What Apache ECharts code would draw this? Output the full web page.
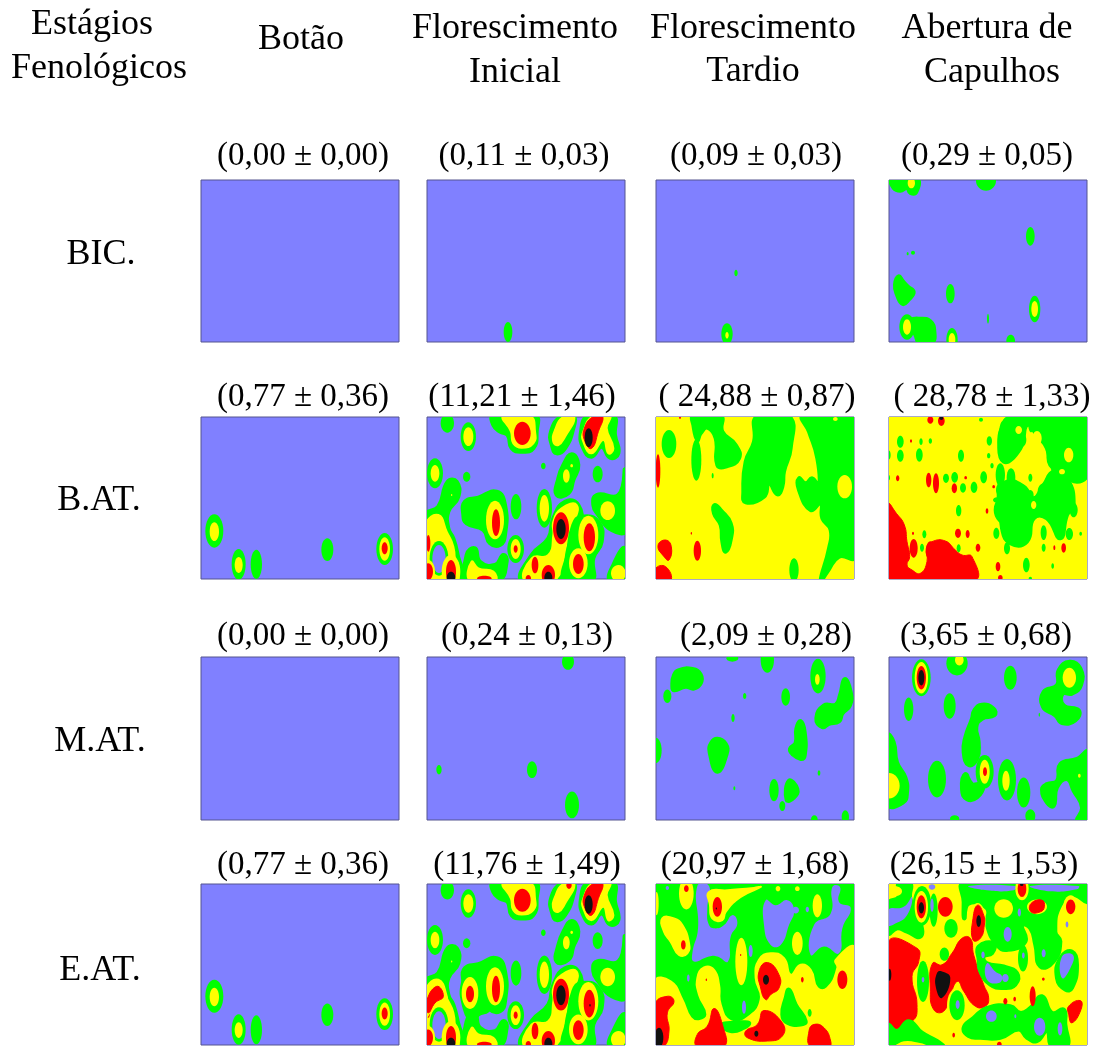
<!DOCTYPE html>
<html><head><meta charset="utf-8">
<style>html,body{margin:0;padding:0;background:#fff}#c{width:1102px;height:1048px}</style>
<script src="https://cdn.jsdelivr.net/npm/echarts@6/dist/echarts.min.js"></script>
</head><body><div id="c"></div>
<script>
// Density levels: 0 none (blue), 1 green, 2 yellow, 3 red, 4 black
const levelColors = ['#8080ff', '#00ff00', '#ffff00', '#ff0000', '#111111'];
const outlineGrow = [0, 4, 2, 1, 0];
const rowLabels = ['BIC.', 'B.AT.', 'M.AT.', 'E.AT.'];
const columnTitles = [['Botão'], ['Florescimento', 'Inicial'], ['Florescimento', 'Tardio'], ['Abertura de', 'Capulhos']];
const cornerTitle = ['Estágios', 'Fenológicos'];
const meanLabels = [
  ['(0,00 ± 0,00)', '(0,11 ± 0,03)', '(0,09 ± 0,03)', '(0,29 ± 0,05)'],
  ['(0,77 ± 0,36)', '(11,21 ± 1,46)', '( 24,88 ± 0,87)', '( 28,78 ± 1,33)'],
  ['(0,00 ± 0,00)', '(0,24 ± 0,13)', '(2,09 ± 0,28)', '(3,65 ± 0,68)'],
  ['(0,77 ± 0,36)', '(11,76 ± 1,49)', '(20,97 ± 1,68)', '(26,15 ± 1,53)']
];

// Contour regions, in field units.
// [level, cx, cy, rx, ry] is an oval patch; [level, x1, y1, x2, y2, ...] is an outlined patch. Later patches lie on top.
const fullYellow = [2, 300, 250, 620, 520];
const fullGreen = [1, 300, 250, 620, 520];

const bicBotao = [];
const bicInicial = [[1, 249, 462, 13, 30]];
const bicTardio = [[1, 246, 285, 5, 10], [1, 219, 468, 17, 32], [2, 219, 472, 5, 10]];
const bicAbertura = [
  [1, 15, 5, 20, 30, 40, 38, 60, 30, 70, 45, 88, 42, 90, 3], [2, 73, 15, 11, 16],
  [1, 297, 8, 30, 30], [1, 430, 175, 13, 28], [1, 78, 224, 6, 6], [1, 62, 227, 3, 5],
  [1, 35, 295, 24, 320, 30, 350, 47, 378, 65, 365, 80, 342, 62, 325, 48, 310],
  [1, 190, 347, 13, 29], [1, 443, 393, 17, 40], [2, 443, 393, 10, 24], [1, 303, 422, 3, 15],
  [1, 70, 430, 100, 422, 130, 430, 142, 460, 135, 495, 100, 498, 85, 470],
  [1, 60, 447, 23, 38], [2, 60, 447, 12, 23],
  [1, 195, 485, 17, 35], [2, 195, 485, 10, 20], [1, 371, 488, 13, 18]
];

const batBotao = [
  [1, 46, 348, 27, 50], [2, 46, 350, 14, 28], [1, 119, 448, 21, 46], [2, 119, 450, 12, 24],
  [1, 172, 448, 17, 44], [1, 385, 404, 18, 34], [1, 557, 402, 25, 48], [2, 557, 402, 16, 35], [3, 557, 400, 9, 18]
];
const inicialShared = [
  [1, 67, 25, 20, 28], [1, 130, 65, 23, 43], [2, 130, 65, 15, 28],
  [1, 205, 3, 330, 3, 335, 50, 325, 100, 290, 110, 260, 100, 248, 60, 225, 50, 205, 30],
  [2, 235, 3, 315, 3, 330, 50, 325, 85, 290, 98, 265, 85, 258, 50], [3, 292, 55, 25, 35],
  [1, 445, 3, 445, 40, 420, 100, 395, 115, 382, 95, 378, 50, 410, 3],
  [2, 415, 6, 448, 6, 420, 65, 400, 90, 385, 80, 390, 45],
  [1, 490, 3, 565, 3, 570, 60, 580, 115, 555, 128, 530, 95, 500, 125, 475, 100, 468, 50],
  [2, 505, 3, 555, 3, 545, 40, 565, 100, 550, 115, 535, 75, 500, 115, 475, 80, 475, 50],
  [3, 507, 3, 533, 3, 520, 50, 500, 100, 480, 80, 478, 40], [4, 491, 68, 12, 28],
  [1, 30, 175, 24, 45], [2, 30, 175, 13, 25], [1, 125, 185, 11, 15], [1, 355, 153, 7, 10], [1, 518, 177, 15, 25],
  [1, 440, 118, 460, 150, 445, 195, 430, 235, 395, 240, 400, 190, 415, 150], [2, 424, 183, 10, 20], [2, 440, 152, 4, 5],
  [1, 3, 300, 40, 275, 68, 200, 95, 200, 100, 245, 70, 290, 70, 340, 85, 370, 98, 420, 110, 497, 3, 497],
  [2, 3, 330, 40, 300, 65, 350, 85, 395, 90, 450, 95, 497, 3, 497],
  [1, 42, 430, 28, 52], [0, 42, 432, 20, 42], [2, 78, 470, 28, 50], [3, 78, 470, 15, 35], [4, 78, 488, 13, 18],
  [2, 10, 470, 20, 35], [3, 10, 385, 6, 25], [3, 10, 470, 14, 25], [2, 80, 240, 2, 3],
  [1, 120, 260, 160, 248, 215, 230, 240, 270, 240, 360, 225, 390, 195, 385, 175, 345, 125, 325, 115, 300],
  [2, 210, 315, 27, 58], [3, 213, 323, 12, 40], [1, 273, 275, 16, 38],
  [1, 358, 280, 23, 58], [2, 358, 280, 14, 40],
  [1, 272, 402, 25, 42], [2, 272, 402, 15, 30], [3, 272, 402, 6, 11],
  [1, 600, 165, 603, 345, 560, 345, 520, 300, 505, 270, 515, 240, 580, 240],
  [2, 548, 287, 22, 28],
  [1, 420, 260, 460, 270, 465, 330, 430, 385, 400, 497, 290, 497, 320, 420, 370, 370, 385, 310],
  [2, 410, 280, 455, 270, 445, 330, 425, 385, 390, 495, 300, 497, 320, 430, 370, 420, 385, 360, 385, 320],
  [3, 408, 340, 24, 48], [4, 408, 342, 14, 30], [3, 330, 450, 10, 25], [3, 370, 480, 20, 30], [4, 370, 488, 12, 18],
  [1, 470, 305, 520, 320, 530, 380, 505, 430, 500, 497, 420, 497, 430, 410, 445, 330],
  [2, 490, 360, 30, 58], [2, 460, 445, 28, 45], [3, 493, 367, 17, 42], [3, 460, 447, 16, 30],
  [1, 125, 420, 150, 400, 165, 440, 210, 450, 235, 420, 245, 440, 220, 497, 130, 497],
  [2, 140, 440, 160, 460, 205, 470, 210, 497, 135, 497], [3, 178, 490, 22, 8],
  [1, 600, 400, 603, 497, 555, 497, 565, 450], [2, 580, 475, 22, 25], [3, 310, 490, 8, 10]
];
const batInicial = inicialShared;
const batTardio = [
  fullYellow, [1, 45, 87, 22, 42],
  [1, 118, 3, 200, 3, 205, 50, 245, 90, 255, 130, 215, 155, 190, 150, 185, 70, 160, 38, 140, 55, 130, 75, 118, 30],
  [1, 127, 135, 15, 62], [1, 176, 182, 3, 8],
  [1, 310, 3, 405, 3, 410, 100, 390, 170, 385, 215, 370, 238, 345, 205, 330, 245, 275, 262, 268, 230, 275, 140, 300, 80],
  [1, 448, 3, 603, 3, 603, 425, 555, 425, 520, 470, 500, 497, 525, 400, 530, 345, 505, 310, 500, 265, 470, 285, 435, 225, 435, 190, 455, 205, 475, 190, 495, 215, 490, 130, 465, 50],
  [2, 572, 215, 22, 35], [2, 544, 12, 7, 6],
  [1, 182, 270, 200, 285, 230, 325, 230, 375, 215, 410, 205, 380, 200, 330, 180, 295],
  [1, 420, 465, 14, 35], [3, 112, 355, 2, 4], [3, 12, 168, 7, 50],
  [3, 12, 392, 35, 375, 52, 395, 45, 435, 30, 425], [3, 130, 407, 11, 30],
  [3, 3, 462, 35, 455, 50, 497, 3, 497], [3, 78, 8, 3, 3]
];
const batAbertura = [
  fullYellow,
  [3, 3, 268, 28, 295, 52, 330, 60, 380, 68, 425, 60, 450, 75, 465, 100, 475, 120, 440, 118, 400, 135, 380, 175, 378, 205, 405, 225, 420, 255, 425, 262, 497, 3, 497],
  [3, 80, 400, 12, 28], [3, 130, 407, 13, 28], [3, 213, 355, 9, 14], [3, 242, 357, 6, 12], [3, 273, 398, 7, 12],
  [3, 300, 288, 4, 8], [3, 333, 455, 7, 14], [3, 530, 399, 7, 14], [3, 502, 398, 3, 7], [3, 78, 355, 3, 5],
  [3, 32, 190, 5, 9], [3, 72, 78, 3, 5], [3, 125, 195, 8, 22], [3, 147, 205, 9, 30], [3, 202, 220, 8, 15],
  [3, 236, 188, 4, 5], [3, 320, 215, 4, 5], [3, 130, 15, 9, 11], [3, 163, 18, 10, 15], [4, 163, 10, 6, 5], [3, 340, 488, 7, 8],
  [1, 40, 80, 10, 18], [1, 40, 122, 10, 18], [1, 5, 120, 6, 14], [1, 102, 80, 5, 10], [1, 97, 120, 10, 20], [1, 130, 78, 5, 8],
  [1, 222, 122, 9, 18], [1, 307, 78, 8, 14], [1, 305, 122, 5, 8], [1, 5, 188, 4, 8], [1, 177, 190, 9, 14], [1, 203, 187, 10, 16],
  [1, 228, 219, 9, 14], [1, 261, 217, 10, 17], [1, 290, 187, 10, 18], [1, 215, 287, 8, 17], [1, 112, 358, 6, 12], [1, 105, 398, 6, 12],
  [1, 215, 400, 6, 12], [1, 328, 355, 9, 17], [1, 360, 400, 9, 18], [1, 418, 450, 10, 22], [1, 497, 453, 4, 8], [1, 470, 353, 9, 22],
  [1, 470, 398, 6, 12], [1, 547, 357, 11, 18], [1, 581, 356, 4, 6], [1, 282, 14, 6, 6], [1, 430, 490, 5, 5], [1, 315, 152, 5, 8],
  [1, 335, 240, 360, 200, 410, 215, 440, 250, 470, 210, 500, 170, 540, 190, 560, 270, 540, 300, 520, 370, 480, 310, 440, 310, 420, 380, 370, 385, 345, 340, 345, 280],
  [1, 340, 60, 370, 10, 600, 5, 603, 170, 570, 200, 520, 170, 490, 150, 480, 100, 450, 60, 420, 30, 400, 100, 350, 140],
  [1, 370, 20, 22, 18], [1, 345, 75, 14, 40], [1, 350, 115, 14, 25], [1, 405, 75, 13, 20], [1, 407, 15, 10, 10], [1, 432, 30, 8, 22],
  [1, 465, 20, 14, 18], [1, 500, 25, 30, 25], [1, 495, 90, 20, 40], [1, 520, 115, 25, 30], [1, 525, 60, 18, 25], [1, 555, 40, 22, 30],
  [1, 585, 22, 10, 12], [1, 585, 110, 18, 60], [1, 555, 150, 22, 22], [1, 590, 60, 10, 25], [1, 500, 160, 8, 15], [1, 530, 160, 20, 25],
  [1, 340, 180, 14, 35], [1, 372, 188, 13, 28], [1, 345, 225, 18, 25], [1, 370, 285, 50, 50], [1, 400, 240, 20, 25], [1, 420, 270, 15, 30],
  [1, 395, 340, 35, 40], [1, 360, 345, 15, 20], [1, 430, 240, 10, 15], [1, 430, 188, 6, 12], [1, 470, 230, 18, 25], [1, 490, 200, 15, 20],
  [1, 465, 285, 15, 22], [1, 500, 265, 30, 25], [1, 530, 220, 20, 40], [1, 560, 285, 12, 22], [1, 505, 300, 20, 20], [1, 515, 350, 10, 15],
  [1, 540, 250, 12, 15], [1, 420, 320, 15, 15], [1, 330, 255, 12, 8], [1, 425, 340, 10, 15], [1, 380, 380, 15, 10],
  [2, 545, 120, 14, 22], [2, 450, 70, 14, 22], [2, 395, 45, 10, 12], [2, 525, 170, 9, 8], [2, 440, 270, 8, 12]
];

const matBotao = [];
const matInicial = [[1, 429, 20, 18, 24], [1, 42, 342, 8, 14], [1, 321, 342, 15, 25], [1, 441, 447, 21, 40]];
const matTardio = [
  [1, 235, 10, 18, 10], [1, 340, 15, 20, 38], [1, 492, 63, 23, 52], [2, 490, 73, 7, 16],
  [1, 60, 60, 75, 45, 115, 42, 140, 58, 140, 85, 120, 100, 95, 95, 60, 105, 55, 90], [1, 40, 123, 12, 20],
  [1, 272, 122, 5, 9], [1, 395, 125, 13, 26], [1, 237, 188, 5, 12],
  [1, 572, 72, 590, 110, 588, 150, 565, 175, 555, 198, 525, 205, 505, 215, 487, 188, 510, 150, 545, 148, 558, 120],
  [1, 440, 197, 452, 230, 452, 300, 440, 310, 415, 295, 408, 280, 425, 262, 427, 220],
  [1, 5, 285, 18, 38], [1, 190, 250, 215, 265, 218, 295, 190, 348, 167, 290, 172, 262],
  [1, 495, 352, 4, 8], [1, 241, 397, 3, 6], [1, 360, 403, 14, 33], [1, 405, 375, 430, 400, 420, 425, 398, 432],
  [1, 385, 450, 9, 15], [1, 481, 490, 10, 12], [1, 574, 483, 11, 20]
];
const matAbertura = [
  [1, 103, 68, 28, 55], [2, 103, 68, 20, 47], [3, 103, 68, 14, 35], [4, 103, 68, 9, 23],
  [1, 210, 25, 32, 36], [2, 217, 15, 13, 16], [1, 370, 68, 19, 36],
  [1, 548, 20, 580, 40, 582, 90, 555, 115, 527, 115, 530, 150, 575, 165, 565, 195, 525, 203, 505, 180, 468, 155, 470, 110, 510, 90, 515, 45],
  [2, 547, 68, 20, 30], [1, 65, 162, 14, 35], [1, 188, 152, 18, 38], [1, 457, 178, 2, 6],
  [1, 285, 148, 320, 160, 322, 180, 285, 190, 268, 215, 275, 260, 270, 310, 245, 328, 230, 290, 235, 245, 255, 190, 262, 165],
  [1, 235, 355, 255, 385, 275, 385, 290, 390, 270, 425, 240, 430, 225, 400],
  [1, 293, 348, 27, 50], [2, 293, 348, 15, 36], [3, 294, 348, 6, 13],
  [1, 3, 240, 20, 260, 30, 320, 55, 365, 60, 410, 48, 440, 3, 445], [2, 5, 390, 33, 38],
  [1, 150, 370, 27, 55], [1, 360, 372, 27, 62], [2, 357, 375, 11, 30],
  [1, 410, 410, 20, 45], [1, 430, 480, 15, 20],
  [1, 603, 290, 603, 497, 570, 497, 585, 455, 560, 405, 540, 370, 510, 395, 500, 450, 480, 440, 465, 400, 480, 385, 510, 375, 520, 325, 570, 310],
  [2, 577, 360, 4, 6], [1, 203, 488, 14, 10]
];

const eatBotao = [
  [1, 46, 345, 27, 50], [2, 46, 347, 14, 28], [1, 119, 445, 21, 46], [2, 119, 447, 12, 24],
  [1, 172, 446, 17, 44], [1, 385, 401, 18, 34], [1, 557, 399, 25, 48], [2, 557, 399, 16, 35], [3, 557, 397, 9, 18]
];
const eatInicial = inicialShared.concat([
  [2, 432, 10, 14, 20], [3, 432, 10, 8, 11],
  [1, 115, 300, 150, 270, 175, 345, 190, 385, 160, 400, 145, 420, 120, 385],
  [2, 135, 335, 25, 48], [3, 135, 338, 12, 25],
  [2, 3, 325, 40, 295, 65, 345, 60, 365, 25, 380, 3, 405], [3, 3, 365, 35, 315, 55, 345, 30, 365, 10, 395],
  [4, 495, 372, 2, 4]
]);
const eatTardio = [
  fullGreen,
  [0, 130, 12, 165, 12, 160, 80, 165, 130, 185, 140, 210, 130, 235, 100, 250, 125, 230, 165, 222, 240, 190, 225, 165, 225, 120, 240, 115, 215, 132, 140],
  [0, 335, 55, 365, 70, 400, 55, 420, 85, 405, 130, 380, 190, 350, 190, 330, 130], [0, 425, 85, 10, 10], [0, 460, 83, 5, 8],
  [0, 535, 15, 558, 15, 555, 60, 590, 78, 565, 140, 555, 215, 510, 195, 470, 220, 480, 130, 530, 95],
  [0, 290, 208, 6, 18], [0, 103, 290, 4, 11], [0, 270, 378, 6, 20], [0, 40, 18, 5, 6],
  [2, 8, 65, 6, 35], [2, 97, 35, 22, 48], [3, 97, 20, 7, 10],
  [2, 165, 30, 220, 25, 300, 18, 320, 15, 260, 45, 215, 90, 205, 115, 175, 110, 168, 70], [3, 190, 75, 14, 30], [4, 187, 80, 2, 3],
  [2, 372, 20, 7, 8], [2, 430, 20, 7, 7], [2, 490, 72, 14, 35], [2, 430, 185, 16, 35],
  [2, 25, 110, 60, 110, 85, 130, 105, 185, 100, 215, 75, 220, 50, 180, 30, 150], [3, 88, 190, 7, 14],
  [2, 262, 240, 18, 72], [3, 260, 220, 2, 3],
  [2, 3, 300, 50, 300, 85, 355, 110, 410, 135, 420, 160, 400, 135, 340, 130, 290, 150, 258, 180, 265, 195, 310, 200, 370, 230, 420, 280, 410, 320, 355, 305, 290, 315, 235, 350, 215, 390, 230, 410, 280, 440, 250, 470, 265, 490, 320, 520, 320, 550, 260, 545, 235, 603, 200, 603, 497, 3, 497],
  [1, 405, 325, 425, 370, 455, 420, 440, 430, 400, 425, 385, 400, 395, 350],
  [1, 467, 395, 6, 12], [1, 163, 492, 6, 5], [1, 205, 430, 250, 425, 285, 425, 270, 440, 230, 450],
  [3, 3, 370, 40, 345, 60, 360, 40, 395, 45, 450, 30, 497, 3, 497], [4, 15, 470, 13, 30],
  [3, 180, 382, 205, 430, 210, 497, 130, 497, 130, 460, 160, 435],
  [3, 330, 388, 385, 425, 385, 465, 340, 480, 280, 470, 275, 450, 310, 430], [4, 307, 458, 6, 9],
  [3, 340, 243, 375, 280, 375, 320, 350, 340, 335, 355, 320, 320, 315, 270], [4, 336, 295, 9, 15],
  [3, 480, 430, 510, 440, 530, 480, 525, 497, 470, 497, 465, 450],
  [3, 565, 295, 15, 28], [3, 445, 295, 4, 8], [3, 157, 295, 2, 4]
];
const eatAbertura = [
  fullYellow,
  [1, 35, 3, 70, 3, 70, 50, 100, 120, 100, 165, 60, 150, 30, 140, 3, 155, 3, 65, 35, 45],
  [0, 3, 85, 50, 75, 75, 45, 60, 100, 25, 125, 3, 130], [0, 135, 15, 10, 8], [2, 25, 28, 20, 15],
  [1, 105, 72, 28, 60], [2, 103, 75, 20, 48], [3, 103, 75, 14, 35], [4, 103, 78, 8, 17],
  [1, 140, 85, 12, 50], [0, 135, 70, 5, 20], [3, 175, 75, 22, 30], [1, 192, 140, 20, 28], [1, 172, 218, 14, 20],
  [1, 232, 3, 603, 3, 603, 60, 560, 40, 520, 70, 505, 150, 520, 180, 500, 240, 460, 255, 445, 190, 430, 140, 405, 130, 415, 180, 360, 205, 330, 190, 300, 130, 300, 80, 245, 65, 232, 110, 230, 60],
  [2, 350, 80, 28, 28], [0, 245, 12, 385, 12, 380, 25, 300, 25], [0, 430, 12, 575, 12, 570, 22, 490, 28],
  [0, 397, 92, 5, 12], [0, 362, 158, 12, 22], [0, 540, 128, 4, 9], [0, 470, 215, 6, 12],
  [2, 405, 20, 20, 35], [3, 405, 20, 13, 25], [4, 404, 8, 5, 4],
  [2, 450, 75, 30, 22], [3, 432, 65, 465, 55, 472, 75, 460, 90, 432, 90],
  [2, 551, 75, 22, 35], [3, 551, 75, 14, 22],
  [2, 272, 118, 24, 55], [3, 272, 70, 290, 100, 292, 130, 280, 170, 258, 175, 258, 110], [4, 275, 118, 7, 18],
  [3, 3, 182, 90, 200, 95, 240, 75, 285, 90, 370, 75, 420, 3, 430], [4, 8, 280, 5, 18],
  [3, 225, 170, 250, 170, 260, 220, 290, 310, 305, 350, 295, 375, 265, 375, 230, 330, 212, 300, 190, 340, 170, 390, 140, 385, 130, 320, 137, 245, 165, 250, 195, 215],
  [4, 150, 275, 165, 270, 190, 290, 165, 350, 147, 320],
  [1, 108, 300, 18, 62], [0, 108, 295, 4, 8], [2, 210, 372, 30, 52], [1, 210, 372, 23, 45], [0, 212, 370, 6, 13],
  [1, 275, 195, 320, 185, 315, 215, 290, 225, 300, 245, 350, 255, 390, 275, 385, 310, 350, 320, 310, 310, 280, 270, 275, 235],
  [0, 288, 220, 5, 10], [0, 300, 245, 325, 270, 345, 285, 335, 305, 300, 295], [0, 355, 290, 10, 12],
  [1, 408, 230, 15, 40], [0, 409, 222, 4, 9],
  [1, 520, 230, 555, 210, 570, 250, 555, 320, 535, 325, 510, 290], [0, 525, 225, 558, 220, 550, 260, 525, 290],
  [1, 230, 440, 260, 410, 300, 380, 370, 375, 400, 395, 430, 380, 465, 345, 495, 395, 530, 385, 535, 430, 540, 497, 495, 497, 480, 450, 450, 480, 420, 470, 395, 445, 340, 470, 280, 470, 245, 465],
  [0, 313, 405, 16, 17], [0, 385, 405, 3, 6], [0, 458, 437, 17, 27], [0, 519, 443, 7, 20],
  [1, 3, 432, 30, 450, 65, 420, 105, 455, 150, 480, 170, 499, 130, 490, 100, 480, 50, 475, 15, 490, 3, 490],
  [3, 200, 462, 4, 7], [3, 355, 360, 6, 10], [3, 383, 353, 4, 7], [3, 437, 345, 9, 30], [3, 469, 293, 4, 5], [3, 337, 490, 7, 8],
  [3, 545, 375, 580, 358, 582, 385, 555, 425, 545, 400]
];

const panels = [
  [bicBotao, bicInicial, bicTardio, bicAbertura],
  [batBotao, batInicial, batTardio, batAbertura],
  [matBotao, matInicial, matTardio, matAbertura],
  [eatBotao, eatInicial, eatTardio, eatAbertura]
];

// Layout
const colLeft = [201, 427, 656, 889];
const rowTop = [180, 417, 657, 884];
const rowHeight = [162, 162, 163, 161];
const panelWidth = 198;
const meanX = [[303, 524, 756, 987], [303, 522, 757, 992], [303, 527, 766, 986], [303, 527, 755, 984]];
const meanY = [156, 397, 636, 865];
const rowLabelX = [101, 99, 100, 100];
const rowLabelY = [255, 501, 742, 971];
const titleX = [[301], [515, 515], [753, 753], [987, 992]];
const titleY = [[40], [29, 73], [29, 72], [29, 73]];
const FONT = '"Liberation Serif","Times New Roman",serif';

function txt(s, x, y, size) {
  return { type: 'text', x: x, y: y, style: { text: s, fontFamily: FONT, fontSize: size, fill: '#000', textAlign: 'center', textVerticalAlign: 'middle' } };
}

function renderPatch(shapes) {
  return function (params, api) {
    const s = shapes[params.dataIndex];
    const fill = levelColors[s[0]];
    if (s.length === 5) {
      const c = api.coord([s[1], s[2]]);
      const e = api.coord([s[1] + s[3], s[2] + s[4]]);
      return { type: 'ellipse', shape: { cx: c[0], cy: c[1], rx: Math.abs(e[0] - c[0]), ry: Math.abs(e[1] - c[1]) }, style: { fill: fill } };
    }
    const pts = [];
    for (let i = 1; i < s.length; i += 2) pts.push(api.coord([s[i], s[i + 1]]));
    return { type: 'polygon', shape: { points: pts, smooth: 0.5 }, style: { fill: fill, stroke: fill, lineWidth: outlineGrow[s[0]], lineJoin: 'round' } };
  };
}

const grid = [], xAxis = [], yAxis = [], series = [], texts = [];
panels.forEach(function (row, r) {
  row.forEach(function (shapes, c) {
    const idx = grid.length;
    grid.push({ left: colLeft[c], top: rowTop[r], width: panelWidth, height: rowHeight[r], show: true, backgroundColor: levelColors[0], borderColor: '#55558f', borderWidth: 1 });
    xAxis.push({ type: 'value', gridIndex: idx, min: 6, max: 600, show: false });
    yAxis.push({ type: 'value', gridIndex: idx, min: 6, max: 492, inverse: true, show: false });
    series.push({
      type: 'custom', xAxisIndex: idx, yAxisIndex: idx, clip: true, silent: true,
      renderItem: renderPatch(shapes),
      encode: { x: 0, y: 1 },
      data: shapes.map(function (s) { return [s[1], s[2]]; })
    });
    texts.push(txt(meanLabels[r][c], meanX[r][c], meanY[r], 33));
  });
  texts.push(txt(rowLabels[r], rowLabelX[r], rowLabelY[r], 36));
});
columnTitles.forEach(function (lines, c) {
  lines.forEach(function (l, i) { texts.push(txt(l, titleX[c][i], titleY[c][i], 36)); });
});
texts.push(txt(cornerTitle[0], 92, 25, 36));
texts.push(txt(cornerTitle[1], 99, 69, 36));

echarts.init(document.getElementById('c'), null, { renderer: 'canvas' }).setOption({
  animation: false, backgroundColor: '#fff', grid: grid, xAxis: xAxis, yAxis: yAxis, series: series,
  graphic: { elements: texts }
});
</script></body></html>
